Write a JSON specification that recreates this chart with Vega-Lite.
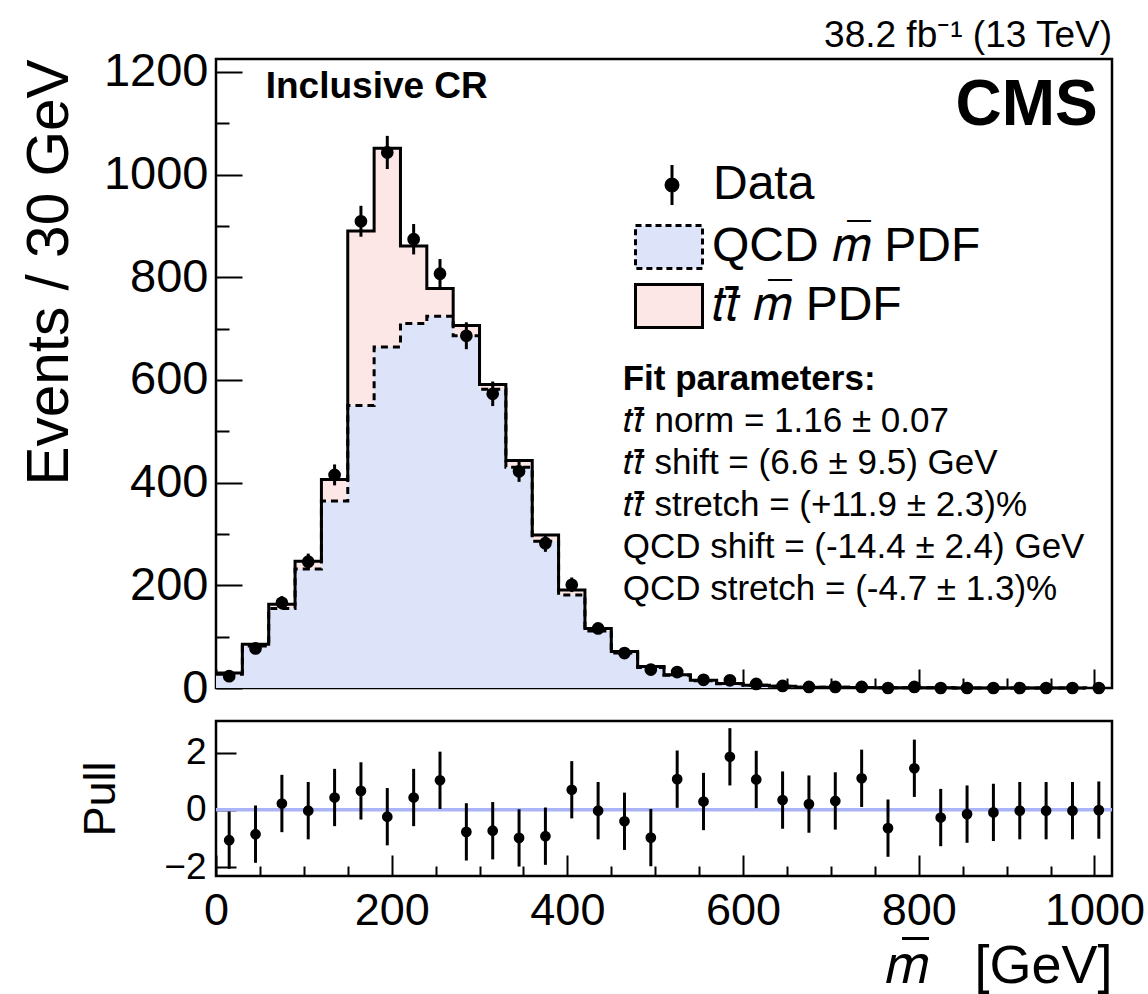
{
  "$schema": "https://vega.github.io/schema/vega-lite/v6.json",
  "padding": {"left": 19, "top": 16, "right": 5, "bottom": 5},
  "background": "white",
  "spacing": 33,
  "bounds": "flush",
  "datasets": {
    "h": [
      {"lo": 0, "hi": 30, "mid": 15, "qcd": 27, "total": 29, "data": 23, "err": 4.8, "pull": -1.06, "perr": 1},
      {"lo": 30, "hi": 60, "mid": 45, "qcd": 82, "total": 85, "data": 77, "err": 8.8, "pull": -0.85, "perr": 1},
      {"lo": 60, "hi": 90, "mid": 75, "qcd": 155, "total": 163, "data": 166, "err": 12.9, "pull": 0.22, "perr": 1},
      {"lo": 90, "hi": 120, "mid": 105, "qcd": 232, "total": 247, "data": 246, "err": 15.7, "pull": -0.03, "perr": 1},
      {"lo": 120, "hi": 150, "mid": 135, "qcd": 364, "total": 406, "data": 415, "err": 20.4, "pull": 0.43, "perr": 1},
      {"lo": 150, "hi": 180, "mid": 165, "qcd": 550, "total": 890, "data": 909, "err": 30.1, "pull": 0.66, "perr": 1},
      {"lo": 180, "hi": 210, "mid": 195, "qcd": 664, "total": 1051, "data": 1043, "err": 32.3, "pull": -0.24, "perr": 1},
      {"lo": 210, "hi": 240, "mid": 225, "qcd": 710, "total": 861, "data": 874, "err": 29.6, "pull": 0.43, "perr": 1},
      {"lo": 240, "hi": 270, "mid": 255, "qcd": 724, "total": 778, "data": 807, "err": 28.4, "pull": 1.03, "perr": 1},
      {"lo": 270, "hi": 300, "mid": 285, "qcd": 686, "total": 706, "data": 686, "err": 26.2, "pull": -0.77, "perr": 1},
      {"lo": 300, "hi": 330, "mid": 315, "qcd": 582, "total": 591, "data": 573, "err": 23.9, "pull": -0.73, "perr": 1},
      {"lo": 330, "hi": 360, "mid": 345, "qcd": 430, "total": 443, "data": 422, "err": 20.5, "pull": -0.98, "perr": 1},
      {"lo": 360, "hi": 390, "mid": 375, "qcd": 286, "total": 298, "data": 282, "err": 16.8, "pull": -0.92, "perr": 1},
      {"lo": 390, "hi": 420, "mid": 405, "qcd": 181, "total": 191, "data": 201, "err": 14.2, "pull": 0.70, "perr": 1},
      {"lo": 420, "hi": 450, "mid": 435, "qcd": 111, "total": 116, "data": 116, "err": 10.8, "pull": -0.03, "perr": 1},
      {"lo": 450, "hi": 480, "mid": 465, "qcd": 68, "total": 71, "data": 68, "err": 8.2, "pull": -0.40, "perr": 1},
      {"lo": 480, "hi": 510, "mid": 495, "qcd": 40, "total": 42, "data": 36, "err": 6.0, "pull": -0.97, "perr": 1},
      {"lo": 510, "hi": 540, "mid": 525, "qcd": 25, "total": 26, "data": 31, "err": 5.6, "pull": 1.07, "perr": 1},
      {"lo": 540, "hi": 570, "mid": 555, "qcd": 14, "total": 15, "data": 16, "err": 4.0, "pull": 0.29, "perr": 1},
      {"lo": 570, "hi": 600, "mid": 585, "qcd": 8.5, "total": 9, "data": 15, "err": 3.9, "pull": 1.85, "perr": 1},
      {"lo": 600, "hi": 630, "mid": 615, "qcd": 5.2, "total": 5.5, "data": 8, "err": 2.8, "pull": 1.06, "perr": 1},
      {"lo": 630, "hi": 660, "mid": 645, "qcd": 3.3, "total": 3.5, "data": 4, "err": 2.0, "pull": 0.34, "perr": 1},
      {"lo": 660, "hi": 690, "mid": 675, "qcd": 1.6, "total": 1.7, "data": 2, "err": 1.4, "pull": 0.20, "perr": 1},
      {"lo": 690, "hi": 720, "mid": 705, "qcd": 1.4, "total": 1.5, "data": 2, "err": 1.4, "pull": 0.31, "perr": 1},
      {"lo": 720, "hi": 750, "mid": 735, "qcd": 0.9, "total": 1.0, "data": 2, "err": 1.4, "pull": 1.10, "perr": 1},
      {"lo": 750, "hi": 780, "mid": 765, "qcd": 0.6, "total": 0.6, "data": 0, "err": 0, "pull": -0.64, "perr": 1},
      {"lo": 780, "hi": 810, "mid": 795, "qcd": 0.5, "total": 0.5, "data": 2, "err": 1.4, "pull": 1.45, "perr": 1},
      {"lo": 810, "hi": 840, "mid": 825, "qcd": 0.3, "total": 0.3, "data": 0, "err": 0, "pull": -0.27, "perr": 1},
      {"lo": 840, "hi": 870, "mid": 855, "qcd": 0.2, "total": 0.2, "data": 0, "err": 0, "pull": -0.15, "perr": 1},
      {"lo": 870, "hi": 900, "mid": 885, "qcd": 0.15, "total": 0.15, "data": 0, "err": 0, "pull": -0.09, "perr": 1},
      {"lo": 900, "hi": 930, "mid": 915, "qcd": 0.1, "total": 0.1, "data": 0, "err": 0, "pull": -0.03, "perr": 1},
      {"lo": 930, "hi": 960, "mid": 945, "qcd": 0.08, "total": 0.08, "data": 0, "err": 0, "pull": -0.03, "perr": 1},
      {"lo": 960, "hi": 990, "mid": 975, "qcd": 0.06, "total": 0.06, "data": 0, "err": 0, "pull": -0.03, "perr": 1},
      {"lo": 990, "hi": 1020, "mid": 1005, "qcd": 0.05, "total": 0.05, "data": 0, "err": 0, "pull": -0.01, "perr": 1}
    ]
  },
  "config": {
    "font": "Liberation Sans",
    "view": {"stroke": "black", "strokeWidth": 2.5},
    "axis": {
      "domain": false, "grid": false,
      "labelFont": "Liberation Sans", "titleFont": "Liberation Sans",
      "labelColor": "black", "titleColor": "black", "tickColor": "black",
      "tickWidth": 2, "titleFontWeight": "normal", "labelOverlap": false, "labelFlush": false
    },
    "legend": {"labelFont": "Liberation Sans", "labelColor": "black", "labelLimit": 900, "padding": 0, "titlePadding": 0}
  },
  "vconcat": [
    {
      "width": 896,
      "height": 629,
      "title": {"text": "38.2 fb⁻¹ (13 TeV)", "anchor": "end", "frame": "group", "fontSize": 37, "fontWeight": "normal", "font": "Liberation Sans", "color": "black", "baseline": "alphabetic", "offset": -36.5},
      "data": {"name": "h"},
      "layer": [
        {
          "mark": {"type": "area", "interpolate": "step-after"},
          "encoding": {
            "x": {"field": "lo", "type": "quantitative", "title": null, "scale": {"domain": [0, 1020], "nice": false, "zero": false},
              "axis": {"values": [0,50,100,150,200,250,300,350,400,450,500,550,600,650,700,750,800,850,900,950,1000], "labels": false, "title": null,
                "tickSize": {"condition": {"test": "datum.value % 200 === 0", "value": -19}, "value": -10}}},
            "y": {"field": "total", "type": "quantitative", "title": "Events / 30 GeV", "stack": null, "scale": {"domain": [0, 1225], "nice": false},
              "axis": {"values": [0,50,100,150,200,250,300,350,400,450,500,550,600,650,700,750,800,850,900,950,1000,1050,1100,1150,1200],
                "title": "Events / 30 GeV", "format": "d", "labelExpr": "datum.value % 200 === 0 ? datum.label : ''",
                "tickSize": {"condition": {"test": "datum.value % 200 === 0", "value": -26}, "value": -13},
                "labelPadding": 34, "labelFontSize": 47, "titleFontSize": 58.5, "titleAnchor": "end", "titlePadding": 24}},
            "y2": {"field": "qcd"},
            "color": {"datum": "𝑡𝑡̄ 𝑚̅ PDF", "scale": {"range": ["#fde6e6"]},
              "legend": {"orient": "none", "legendX": 418, "legendY": 212, "title": null, "symbolType": "M-1,-0.64H1V0.64H-1Z", "symbolSize": 4489,
                "symbolStrokeColor": "black", "symbolStrokeWidth": 3, "symbolFillColor": "#fde6e6", "labelFontSize": 48, "labelOffset": 8}}
          }
        },
        {
          "mark": {"type": "area", "interpolate": "step-after"},
          "encoding": {
            "x": {"field": "lo", "type": "quantitative", "title": null},
            "y": {"field": "qcd", "type": "quantitative", "stack": null, "title": "Events / 30 GeV"},
            "fill": {"datum": "QCD 𝑚̅ PDF", "scale": {"range": ["#dde3f8"]},
              "legend": {"orient": "none", "legendX": 418, "legendY": 153, "title": null, "symbolType": "M-1,-0.64H1V0.64H-1Z", "symbolSize": 4489,
                "symbolStrokeColor": "black", "symbolStrokeWidth": 3, "symbolDash": [6, 4], "symbolFillColor": "#dde3f8", "labelFontSize": 48, "labelOffset": 8}}
          }
        },
        {
          "mark": {"type": "line", "interpolate": "step-after", "color": "black", "strokeWidth": 3, "strokeDash": [7, 5]},
          "encoding": {
            "x": {"field": "lo", "type": "quantitative", "title": null},
            "y": {"field": "qcd", "type": "quantitative", "title": "Events / 30 GeV"}
          }
        },
        {
          "mark": {"type": "line", "interpolate": "step-after", "color": "black", "strokeWidth": 3},
          "encoding": {
            "x": {"field": "lo", "type": "quantitative", "title": null},
            "y": {"field": "total", "type": "quantitative", "title": "Events / 30 GeV"}
          }
        },
        {
          "mark": {"type": "errorbar", "thickness": 3, "color": "black"},
          "encoding": {
            "x": {"field": "mid", "type": "quantitative", "title": null},
            "y": {"field": "data", "type": "quantitative", "title": "Events / 30 GeV"},
            "yError": {"field": "err"}
          }
        },
        {
          "mark": {"type": "point", "filled": true, "size": 115, "opacity": 1, "fill": "black"},
          "encoding": {
            "x": {"field": "mid", "type": "quantitative", "title": null},
            "y": {"field": "data", "type": "quantitative", "title": "Events / 30 GeV"},
            "stroke": {"datum": "Data", "scale": {"range": ["black"]},
              "legend": {"orient": "none", "legendX": 432, "legendY": 102, "title": null,
                "symbolType": "M0,-1V1M-0.3,0A0.3,0.3,0,1,0,0.3,0A0.3,0.3,0,1,0,-0.3,0Z", "symbolSize": 1600,
                "symbolFillColor": "black", "symbolStrokeColor": "black", "symbolStrokeWidth": 3, "labelFontSize": 48, "labelOffset": 17}}
          }
        },
        {
          "data": {"values": [{}]},
          "mark": {"type": "text", "text": "Inclusive CR", "fontSize": 37, "fontWeight": "bold", "align": "left", "baseline": "alphabetic", "color": "black"},
          "encoding": {"x": {"datum": 56.6, "type": "quantitative"}, "y": {"datum": 1149.5, "type": "quantitative"}}
        },
        {
          "data": {"values": [{}]},
          "mark": {"type": "text", "text": "CMS", "fontSize": 64, "fontWeight": "bold", "align": "right", "baseline": "alphabetic", "color": "black"},
          "encoding": {"x": {"datum": 1003.7, "type": "quantitative"}, "y": {"datum": 1096, "type": "quantitative"}}
        },
        {
          "data": {"values": [{}]},
          "mark": {"type": "text", "text": "Fit parameters:", "fontSize": 35, "fontWeight": "bold", "align": "left", "baseline": "alphabetic", "color": "black"},
          "encoding": {"x": {"datum": 463, "type": "quantitative"}, "y": {"datum": 579.6, "type": "quantitative"}}
        },
        {
          "data": {"values": [{}]},
          "mark": {"type": "text", "text": ["𝑡𝑡̄ norm = 1.16 ± 0.07", "𝑡𝑡̄ shift = (6.6 ± 9.5) GeV", "𝑡𝑡̄ stretch = (+11.9 ± 2.3)%", "QCD shift = (-14.4 ± 2.4) GeV", "QCD stretch = (-4.7 ± 1.3)%"],
            "fontSize": 35, "lineHeight": 42, "align": "left", "baseline": "alphabetic", "color": "black"},
          "encoding": {"x": {"datum": 463, "type": "quantitative"}, "y": {"datum": 497.8, "type": "quantitative"}}
        }
      ]
    },
    {
      "width": 896,
      "height": 155,
      "data": {"name": "h"},
      "layer": [
        {
          "data": {"values": [{}]},
          "mark": {"type": "rule", "color": "#aab4f7", "strokeWidth": 3.5},
          "encoding": {"y": {"datum": 0, "type": "quantitative", "title": "Pull"}}
        },
        {
          "mark": {"type": "errorbar", "thickness": 3, "color": "black"},
          "encoding": {
            "x": {"field": "mid", "type": "quantitative", "title": "𝑚̅\u00a0\u00a0\u00a0[GeV]", "scale": {"domain": [0, 1020], "nice": false, "zero": false},
              "axis": {"values": [0,50,100,150,200,250,300,350,400,450,500,550,600,650,700,750,800,850,900,950,1000],
                "format": "d", "labelExpr": "datum.value % 200 === 0 ? datum.label : ''",
                "tickSize": {"condition": {"test": "datum.value % 200 === 0", "value": -21}, "value": -10},
                "labelPadding": 33, "labelFontSize": 45, "title": "𝑚̅\u00a0\u00a0\u00a0[GeV]", "titleFontSize": 54, "titleAnchor": "end",
                "titleBaseline": "alphabetic", "titleY": 106.5}},
            "y": {"field": "pull", "type": "quantitative", "title": "Pull", "scale": {"domain": [-2.31, 3.1], "nice": false, "zero": false},
              "axis": {"values": [-2,-1.5,-1,-0.5,0,0.5,1,1.5,2,2.5,3], "labelExpr": "datum.value % 2 === 0 ? datum.label : ''",
                "tickSize": {"condition": {"test": "datum.value % 2 === 0", "value": -20}, "value": -10},
                "labelPadding": 30, "labelFontSize": 37, "title": "Pull", "titleFontSize": 45, "titlePadding": 40}},
            "yError": {"field": "perr"}
          }
        },
        {
          "mark": {"type": "point", "filled": true, "size": 115, "opacity": 1, "color": "black"},
          "encoding": {
            "x": {"field": "mid", "type": "quantitative", "title": "𝑚̅\u00a0\u00a0\u00a0[GeV]"},
            "y": {"field": "pull", "type": "quantitative", "title": "Pull"}
          }
        }
      ]
    }
  ]
}
